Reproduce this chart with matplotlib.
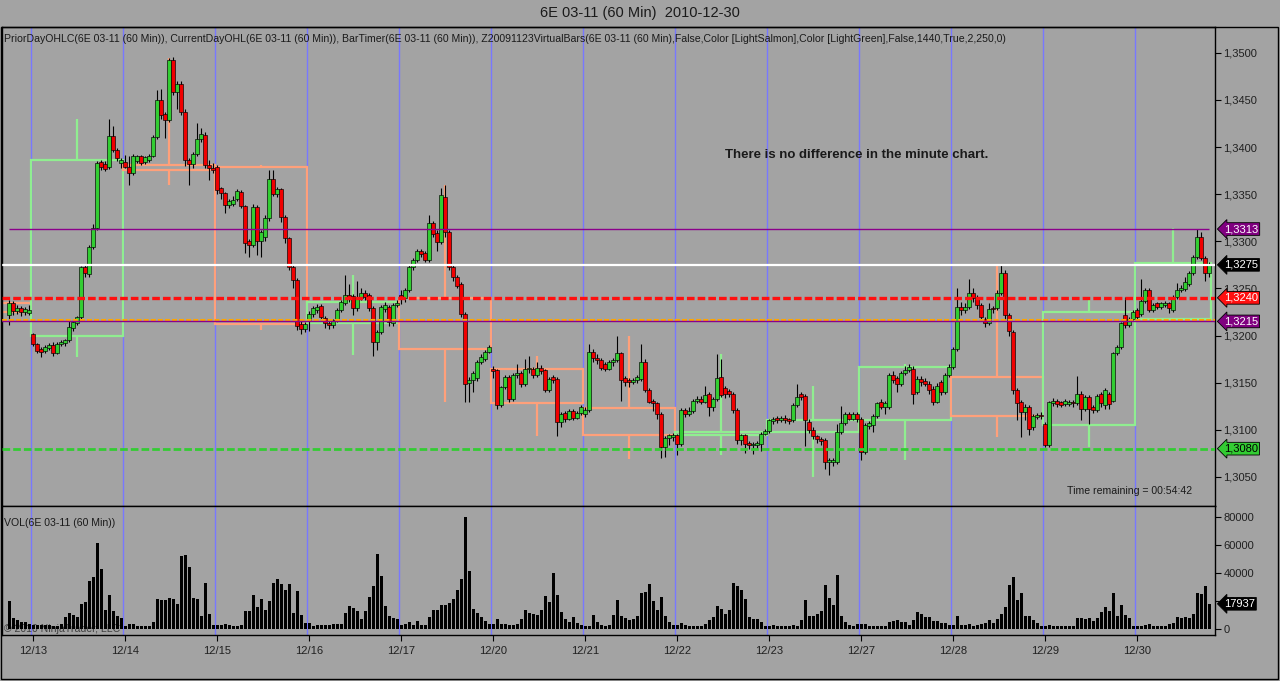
import numpy as np
import matplotlib.pyplot as plt
from matplotlib.patches import Rectangle
from matplotlib.transforms import blended_transform_factory
from matplotlib.ticker import FixedLocator, FuncFormatter

plt.rcParams['font.family'] = ['Liberation Sans', 'DejaVu Sans']
plt.rcParams['lines.scale_dashes'] = False
plt.rcParams['text.color'] = '#1a1a1a'

# 60 min bars of 6E 03-11, prices in 1/10000 (13228 -> 1.3228)
# one line per session: 12/12 evening, 12/13 ... 12/29, 12/30 (still running)
bars_per_session = [6, 23, 23, 23, 23, 23, 23, 23, 23, 23, 23, 23, 23, 19]
day_labels = ['12/13', '12/14', '12/15', '12/16', '12/17', '12/20', '12/21',
              '12/22', '12/23', '12/27', '12/28', '12/29', '12/30']

opens = [
    13222, 13234, 13226, 13229, 13225, 13224,
    13202, 13191, 13186, 13184, 13187, 13190, 13181, 13191, 13192, 13195, 13208, 13213, 13220, 13273, 13265, 13294, 13314, 13384, 13382, 13379, 13412, 13397, 13383,
    13384, 13379, 13372, 13385, 13390, 13384, 13386, 13391, 13411, 13450, 13435, 13429, 13492, 13458, 13467, 13437, 13386, 13382, 13393, 13409, 13413, 13381, 13378,
    13379, 13356, 13351, 13338, 13340, 13345, 13352, 13337, 13300, 13296, 13336, 13300, 13305, 13325, 13366, 13350, 13355, 13326, 13303, 13273, 13259, 13212, 13207,
    13216, 13223, 13227, 13231, 13219, 13213, 13211, 13216, 13227, 13234, 13243, 13242, 13229, 13240, 13245, 13243, 13229, 13193, 13204, 13228, 13230, 13213, 13232,
    13243, 13240, 13248, 13273, 13280, 13290, 13288, 13280, 13319, 13309, 13299, 13347, 13310, 13273, 13262, 13255, 13223, 13150, 13153, 13155, 13172, 13175, 13183,
    13164, 13163, 13126, 13145, 13156, 13133, 13158, 13160, 13149, 13164, 13164, 13158, 13166, 13163, 13142, 13156, 13154, 13108, 13118, 13112, 13120, 13113, 13118,
    13117, 13121, 13183, 13176, 13174, 13170, 13165, 13172, 13174, 13181, 13155, 13153, 13151, 13153, 13154, 13172, 13142, 13131, 13128, 13117, 13082, 13091, 13092,
    13094, 13085, 13121, 13117, 13120, 13131, 13133, 13130, 13138, 13124, 13133, 13156, 13144, 13141, 13138, 13121, 13089, 13094, 13086, 13084, 13084, 13085, 13096,
    13099, 13109, 13113, 13110, 13113, 13111, 13110, 13126, 13138, 13136, 13108, 13100, 13093, 13090, 13089, 13066, 13066, 13066, 13098, 13107, 13117, 13112, 13117,
    13112, 13076, 13104, 13105, 13115, 13130, 13124, 13124, 13158, 13155, 13149, 13160, 13163, 13165, 13140, 13154, 13152, 13149, 13143, 13130, 13151, 13140, 13158,
    13167, 13186, 13230, 13227, 13230, 13245, 13240, 13232, 13218, 13213, 13229, 13229, 13245, 13266, 13222, 13204, 13142, 13130, 13119, 13124, 13103, 13114, 13116,
    13106, 13084, 13128, 13131, 13129, 13127, 13127, 13130, 13128, 13138, 13122, 13135, 13124, 13121, 13138, 13126, 13138, 13131, 13181, 13188, 13222, 13211, 13218,
    13227, 13223, 13237, 13248, 13227, 13234, 13230, 13232, 13234, 13227, 13241, 13248, 13249, 13255, 13266, 13283, 13305, 13282, 13266,
]
highs = [
    13238, 13237, 13232, 13231, 13230, 13232,
    13203, 13192, 13188, 13190, 13192, 13193, 13193, 13195, 13196, 13215, 13218, 13221, 13274, 13275, 13296, 13318, 13385, 13386, 13385, 13430, 13422, 13399, 13388,
    13392, 13390, 13393, 13392, 13392, 13391, 13393, 13413, 13460, 13462, 13437, 13494, 13495, 13470, 13470, 13440, 13388, 13395, 13425, 13420, 13416, 13386, 13383,
    13381, 13358, 13352, 13345, 13348, 13355, 13354, 13339, 13302, 13340, 13338, 13312, 13328, 13376, 13376, 13358, 13357, 13328, 13305, 13275, 13261, 13215, 13214,
    13226, 13231, 13233, 13233, 13221, 13216, 13218, 13229, 13238, 13264, 13255, 13244, 13258, 13250, 13248, 13245, 13231, 13206, 13232, 13236, 13232, 13234, 13238,
    13248, 13250, 13275, 13282, 13292, 13292, 13290, 13328, 13322, 13312, 13357, 13360, 13312, 13275, 13264, 13257, 13225, 13156, 13162, 13174, 13180, 13185, 13190,
    13168, 13165, 13147, 13158, 13158, 13160, 13170, 13162, 13175, 13178, 13167, 13172, 13169, 13165, 13156, 13158, 13156, 13119, 13120, 13122, 13122, 13120, 13126,
    13124, 13191, 13186, 13180, 13176, 13172, 13174, 13176, 13200, 13183, 13157, 13155, 13155, 13158, 13191, 13175, 13144, 13133, 13130, 13119, 13093, 13096, 13097,
    13096, 13123, 13123, 13124, 13133, 13136, 13136, 13147, 13140, 13135, 13180, 13175, 13146, 13143, 13140, 13123, 13096, 13096, 13088, 13087, 13088, 13098, 13101,
    13112, 13114, 13115, 13115, 13116, 13113, 13128, 13149, 13140, 13138, 13112, 13103, 13095, 13092, 13091, 13070, 13070, 13106, 13125, 13119, 13119, 13119, 13119,
    13114, 13107, 13109, 13117, 13130, 13133, 13131, 13160, 13162, 13157, 13162, 13168, 13170, 13168, 13157, 13157, 13155, 13152, 13146, 13150, 13153, 13160, 13170,
    13188, 13250, 13236, 13234, 13260, 13250, 13243, 13235, 13220, 13234, 13231, 13248, 13275, 13270, 13224, 13206, 13144, 13132, 13127, 13126, 13117, 13118, 13119,
    13108, 13131, 13134, 13133, 13131, 13133, 13132, 13132, 13157, 13141, 13137, 13137, 13126, 13138, 13140, 13144, 13140, 13183, 13190, 13214, 13241, 13220, 13227,
    13229, 13260, 13250, 13250, 13234, 13236, 13236, 13237, 13236, 13243, 13256, 13254, 13262, 13268, 13285, 13313, 13310, 13284, 13278,
]
lows = [
    13211, 13222, 13223, 13221, 13222, 13222,
    13189, 13181, 13177, 13182, 13185, 13178, 13180, 13189, 13189, 13193, 13205, 13211, 13218, 13262, 13262, 13292, 13312, 13376, 13375, 13377, 13395, 13385, 13378,
    13378, 13360, 13370, 13383, 13381, 13382, 13384, 13389, 13409, 13430, 13410, 13427, 13455, 13440, 13434, 13380, 13360, 13378, 13391, 13405, 13378, 13365, 13372,
    13350, 13345, 13330, 13335, 13337, 13343, 13335, 13288, 13283, 13294, 13285, 13283, 13300, 13322, 13348, 13347, 13320, 13298, 13270, 13250, 13206, 13202, 13204,
    13205, 13220, 13224, 13216, 13208, 13207, 13208, 13214, 13225, 13232, 13236, 13222, 13226, 13238, 13238, 13226, 13178, 13185, 13202, 13225, 13210, 13210, 13230,
    13233, 13236, 13246, 13270, 13278, 13283, 13278, 13278, 13305, 13290, 13297, 13305, 13270, 13258, 13250, 13220, 13130, 13130, 13140, 13152, 13170, 13173, 13181,
    13155, 13122, 13124, 13143, 13130, 13131, 13155, 13145, 13147, 13160, 13155, 13156, 13159, 13140, 13140, 13150, 13093, 13103, 13108, 13110, 13110, 13111, 13116,
    13114, 13119, 13172, 13170, 13163, 13162, 13163, 13168, 13172, 13131, 13146, 13145, 13149, 13150, 13152, 13140, 13128, 13120, 13112, 13070, 13071, 13084, 13088,
    13073, 13083, 13114, 13115, 13118, 13128, 13127, 13128, 13115, 13120, 13131, 13135, 13134, 13135, 13118, 13085, 13084, 13075, 13080, 13074, 13080, 13078, 13094,
    13097, 13106, 13107, 13108, 13107, 13106, 13108, 13124, 13132, 13083, 13097, 13090, 13086, 13084, 13058, 13052, 13062, 13064, 13096, 13105, 13110, 13110, 13108,
    13068, 13074, 13101, 13098, 13113, 13122, 13117, 13122, 13150, 13140, 13147, 13158, 13161, 13127, 13138, 13146, 13146, 13138, 13126, 13128, 13137, 13138, 13156,
    13165, 13184, 13222, 13224, 13228, 13236, 13228, 13216, 13209, 13211, 13224, 13227, 13243, 13218, 13200, 13138, 13110, 13092, 13110, 13094, 13100, 13112, 13112,
    13082, 13082, 13125, 13124, 13124, 13125, 13125, 13124, 13126, 13110, 13120, 13106, 13118, 13119, 13124, 13122, 13122, 13129, 13179, 13186, 13208, 13209, 13216,
    13217, 13221, 13235, 13225, 13225, 13228, 13228, 13230, 13224, 13225, 13239, 13246, 13247, 13253, 13264, 13281, 13280, 13258, 13262,
]
closes = [
    13234, 13226, 13229, 13225, 13228, 13227,
    13191, 13184, 13183, 13188, 13190, 13181, 13191, 13193, 13195, 13209, 13214, 13220, 13273, 13266, 13294, 13314, 13383, 13379, 13377, 13412, 13397, 13388, 13386,
    13379, 13372, 13390, 13390, 13383, 13389, 13391, 13411, 13450, 13434, 13429, 13492, 13458, 13467, 13437, 13386, 13382, 13393, 13409, 13414, 13381, 13378, 13376,
    13354, 13351, 13338, 13343, 13344, 13353, 13337, 13298, 13296, 13336, 13300, 13310, 13325, 13366, 13350, 13355, 13326, 13303, 13273, 13259, 13210, 13207, 13212,
    13223, 13229, 13230, 13220, 13213, 13211, 13216, 13227, 13236, 13243, 13240, 13229, 13240, 13245, 13241, 13229, 13193, 13204, 13230, 13232, 13214, 13232, 13235,
    13239, 13248, 13273, 13280, 13290, 13287, 13280, 13319, 13308, 13299, 13349, 13310, 13273, 13262, 13253, 13223, 13149, 13153, 13160, 13172, 13177, 13183, 13188,
    13162, 13126, 13145, 13156, 13133, 13158, 13160, 13149, 13164, 13166, 13158, 13166, 13162, 13142, 13154, 13153, 13108, 13117, 13112, 13120, 13113, 13118, 13124,
    13121, 13183, 13176, 13174, 13166, 13165, 13172, 13174, 13181, 13153, 13151, 13151, 13153, 13156, 13172, 13142, 13130, 13128, 13117, 13082, 13091, 13094, 13094,
    13085, 13121, 13117, 13120, 13131, 13133, 13130, 13137, 13124, 13133, 13155, 13137, 13138, 13138, 13121, 13089, 13094, 13085, 13084, 13085, 13086, 13096, 13099,
    13110, 13112, 13110, 13113, 13110, 13109, 13126, 13135, 13135, 13110, 13100, 13093, 13090, 13088, 13066, 13068, 13068, 13098, 13107, 13117, 13112, 13117, 13112,
    13076, 13105, 13107, 13115, 13128, 13124, 13128, 13158, 13153, 13149, 13160, 13163, 13167, 13138, 13154, 13151, 13149, 13142, 13130, 13147, 13140, 13158, 13167,
    13186, 13230, 13227, 13230, 13245, 13240, 13232, 13220, 13213, 13228, 13228, 13245, 13266, 13222, 13205, 13142, 13128, 13119, 13124, 13101, 13115, 13116, 13115,
    13084, 13129, 13131, 13127, 13126, 13131, 13130, 13128, 13138, 13122, 13135, 13122, 13121, 13136, 13128, 13142, 13127, 13181, 13188, 13213, 13211, 13218, 13225,
    13220, 13237, 13248, 13227, 13232, 13230, 13234, 13235, 13229, 13241, 13248, 13250, 13257, 13266, 13283, 13305, 13282, 13266, 13275,
]
volumes = [
    19600, 7700, 6500, 5300, 4800, 3500,
    2900, 2900, 2900, 2900, 2900, 2400, 2400, 3600, 8400, 11200, 9600, 8600, 18000, 19400, 34500, 36900, 61000, 43000, 13700, 24400, 12500, 9300, 7500,
    2400, 3600, 3600, 2400, 1900, 1900, 1900, 5300, 21500, 20800, 20800, 22000, 21500, 17500, 52000, 52700, 44500, 22000, 21500, 9300, 33000, 10800, 2900,
    2900, 2900, 3400, 2900, 2400, 2400, 2900, 12500, 12900, 24400, 15800, 21300, 13700, 20100, 32800, 35900, 32100, 28000, 32100, 11300, 27300, 10100, 4300,
    4300, 2400, 2900, 2900, 2900, 2900, 3400, 3600, 3600, 11300, 16500, 15300, 12500, 7200, 12500, 22800, 30900, 53200, 38100, 16500, 9300, 7700, 7200,
    2900, 3400, 5300, 2900, 5700, 2900, 2900, 8600, 13700, 13700, 16800, 16800, 18400, 21600, 28000, 35900, 80000, 41000, 14400, 11300, 8600, 5700, 3400,
    3600, 7200, 3600, 3400, 2900, 2900, 3800, 7200, 13700, 11300, 10500, 10100, 13400, 23700, 18900, 40000, 24000, 12000, 7200, 5300, 8600, 4300, 2900,
    1900, 1900, 10000, 4800, 2900, 2400, 2900, 9600, 20600, 9300, 7700, 6500, 7200, 9300, 25600, 26300, 32100, 20100, 13700, 22800, 9300, 4800, 2900,
    2900, 4300, 2900, 2200, 1900, 1900, 2400, 3400, 6200, 8400, 16500, 14400, 10800, 13700, 32800, 30900, 28000, 21600, 8400, 7200, 7200, 4800, 1900,
    1900, 2900, 1900, 2400, 2400, 2400, 2900, 2400, 6200, 20800, 9300, 9300, 10800, 12900, 31600, 22000, 16800, 38800, 9300, 5300, 2900, 1900, 3400,
    3400, 3400, 1900, 1900, 1900, 1900, 1900, 5300, 6000, 6500, 5300, 5300, 2900, 6500, 12200, 10800, 8400, 8400, 5700, 5700, 4300, 4300, 2900,
    2900, 9300, 2900, 2900, 3600, 2400, 2900, 3600, 4100, 6200, 4100, 7200, 10500, 16000, 31600, 36900, 20800, 25600, 9300, 9300, 6200, 4100, 1900,
    1900, 2900, 2400, 1900, 1900, 1900, 1900, 1900, 8100, 8100, 7200, 7700, 5700, 7700, 12200, 16000, 12900, 25600, 8900, 17200, 9600, 7700, 1900,
    1900, 1900, 2900, 3400, 2400, 1900, 1900, 1900, 3400, 4100, 8400, 7700, 8400, 8100, 10500, 25600, 24900, 30900, 17937,
]

# Z20091123VirtualBars: one daily candle per session (outline only)
vb_open = [13234, 13200, 13381, 13379, 13213, 13240, 13164, 13123, 13094, 13098, 13110, 13156, 13105, 13218]
vb_close = [13225, 13386, 13376, 13212, 13236, 13186, 13128, 13094, 13098, 13110, 13167, 13115, 13225, 13277]
vb_high = [13238, 13430, 13494, 13381, 13264, 13360, 13178, 13200, 13180, 13147, 13170, 13275, 13239, 13314]
vb_low = [13212, 13177, 13360, 13206, 13179, 13130, 13093, 13069, 13073, 13050, 13068, 13092, 13082, 13215]

# PriorDayOHLC / CurrentDayOHL levels
cur_high = 1.3313
last_price = 1.3275
prior_high = 1.3240
prior_close = 1.3217
cur_low = 1.3215
prior_low = 1.3080
last_volume = 17937

BG = '#a3a3a3'
GREEN = '#32cd32'
RED = '#f00000'
DAYLINE = '#7878ff'
SALMON = '#ffa07a'
LGREEN = '#90ee90'

W, H = 1280, 681


def px_rect(x0, y0, x1, y1):
    return [x0 / W, 1 - y1 / H, (x1 - x0) / W, (y1 - y0) / H]


def fx(x):
    return x / W


def fy(y):
    return 1 - y / H


fig = plt.figure(figsize=(W / 100, H / 100), dpi=100, facecolor=BG)
ax = fig.add_axes(px_rect(2, 27, 1215, 506))
axv = fig.add_axes(px_rect(2, 506, 1215, 635), sharex=ax)
for a in (ax, axv):
    a.set_facecolor(BG)
    for s in a.spines.values():
        s.set_color('black')
        s.set_linewidth(1)

o = np.array(opens) / 1e4
h = np.array(highs) / 1e4
l = np.array(lows) / 1e4
c = np.array(closes) / 1e4
idx = np.arange(len(c))
up = c >= o

starts = np.concatenate([[0], np.cumsum(bars_per_session)[:-1]])

# session separators
for s in starts[1:]:
    ax.axvline(s - 0.5, color=DAYLINE, lw=1.0, zorder=1)
    axv.axvline(s - 0.5, color=DAYLINE, lw=1.0, zorder=1)

# virtual daily bars
full_session = 23
for k, (s, n) in enumerate(zip(starts, bars_per_session)):
    x0 = s - 0.5
    if k == 0:
        x0 = s + n - full_session - 0.5
    x1 = s + n - 0.5
    vo, vc = vb_open[k] / 1e4, vb_close[k] / 1e4
    vh, vl = vb_high[k] / 1e4, vb_low[k] / 1e4
    col = LGREEN if vc >= vo else SALMON
    top, bot = max(vo, vc), min(vo, vc)
    ax.add_patch(Rectangle((x0, bot), x1 - x0, top - bot, fill=False,
                           ec=col, lw=1.6, zorder=2))
    xm = (x0 + x1) / 2
    ax.vlines([xm, xm], [top, vl], [vh, bot], color=col, lw=1.6, zorder=2)

# candles
ax.vlines(idx, l, h, color='black', lw=0.8, zorder=3)
body = np.maximum(np.abs(c - o), 0.00003)
ax.bar(idx, body, bottom=np.minimum(o, c), width=0.86,
       color=np.where(up, GREEN, RED), edgecolor='black', linewidth=0.45, zorder=4)

# levels
ax.hlines(cur_high, idx[0], idx[-1], color='#8b008b', lw=1.0, zorder=5)
ax.axhline(last_price, color='white', lw=1.6, zorder=5)
ax.axhline(prior_high, color='#ff1010', lw=2.4, dashes=(5.5, 2.2), zorder=5)
ax.axhline(prior_close, color='#ffa500', lw=1.5, dashes=(3.6, 1.5), zorder=5)
ax.axhline(cur_low, color='#8b008b', lw=1.0, zorder=5)
ax.axhline(prior_low, color='#33cc33', lw=2.0, dashes=(5.5, 2.2), zorder=5)

ax.set_xlim(-1.75, 301.5)
ax.set_ylim(1.301918, 1.352732)
ax.yaxis.tick_right()
ax.yaxis.set_major_locator(FixedLocator(np.arange(1.305, 1.35001, 0.005)))
ax.yaxis.set_major_formatter(FuncFormatter(lambda v, p: f'{v:.4f}'.replace('.', ',')))
ax.tick_params(axis='y', direction='out', length=4, width=0.8, labelsize=8,
               colors='black', labelcolor='#202020', pad=2)
ax.tick_params(axis='x', length=0, labelbottom=False)

# price tags on the axis
tr = blended_transform_factory(ax.transAxes, ax.transData)
tags = [(cur_high, '#800080', 'white'), (last_price, 'black', 'white'),
        (prior_high, '#ff1010', 'white'), (cur_low, '#800080', 'white'),
        (prior_low, '#33cc33', 'black')]
for val, fc, tc in tags:
    ax.text(1.0075, val, f'{val:.4f}'.replace('.', ','), transform=tr,
            ha='left', va='center', fontsize=8, color=tc, clip_on=False, zorder=10,
            bbox=dict(boxstyle='larrow,pad=0.12', fc=fc, ec='black', lw=0.6))

# volume
axv.bar(idx, volumes, width=0.75, color='black', zorder=2, antialiased=False)
axv.set_ylim(-4310, 87690)
axv.yaxis.tick_right()
axv.set_yticks([0, 20000, 40000, 60000, 80000])
axv.set_yticklabels(['0', '20000', '40000', '60000', '80000'])
axv.tick_params(axis='y', direction='out', length=4, width=0.8, labelsize=8,
                colors='black', labelcolor='#202020', pad=2)
axv.set_xticks(starts[1:])
axv.set_xticklabels(day_labels)
axv.tick_params(axis='x', direction='out', length=4, width=0.8, labelsize=8,
                colors='black', labelcolor='#202020', pad=4)
tv = blended_transform_factory(axv.transAxes, axv.transData)
axv.text(1.0075, last_volume, str(last_volume), transform=tv, ha='left', va='center',
         fontsize=8, color='white', clip_on=False, zorder=10,
         bbox=dict(boxstyle='larrow,pad=0.12', fc='black', ec='black', lw=0.6))
axv.text(0.002, 0.05, '\u00a9 2010 NinjaTrader, LLC', transform=axv.transAxes,
         fontsize=7.6, color='#404040', ha='left', va='center', zorder=1)

# texts
fig.text(fx(640), fy(13), '6E 03-11 (60 Min)  2010-12-30', ha='center', va='center',
         fontsize=10.5)
fig.text(fx(4), fy(39),
         'PriorDayOHLC(6E 03-11 (60 Min)), CurrentDayOHL(6E 03-11 (60 Min)), '
         'BarTimer(6E 03-11 (60 Min)), Z20091123VirtualBars(6E 03-11 (60 Min),False,'
         'Color [LightSalmon],Color [LightGreen],False,1440,True,2,250,0)',
         ha='left', va='center', fontsize=7.6)
fig.text(fx(4), fy(523), 'VOL(6E 03-11 (60 Min))', ha='left', va='center', fontsize=7.6)
fig.text(fx(725), fy(155), 'There is no difference in the minute chart.',
         ha='left', va='center', fontsize=9.5, fontweight='bold')
fig.text(fx(1067), fy(491), 'Time remaining = 00:54:42', ha='left', va='center',
         fontsize=7.6)

fig.add_artist(Rectangle((fx(1), fy(679)), 1277 / W, 652 / H, transform=fig.transFigure,
                         fill=False, ec='black', lw=1))

fig.savefig('out.png', dpi=100, facecolor=BG)
